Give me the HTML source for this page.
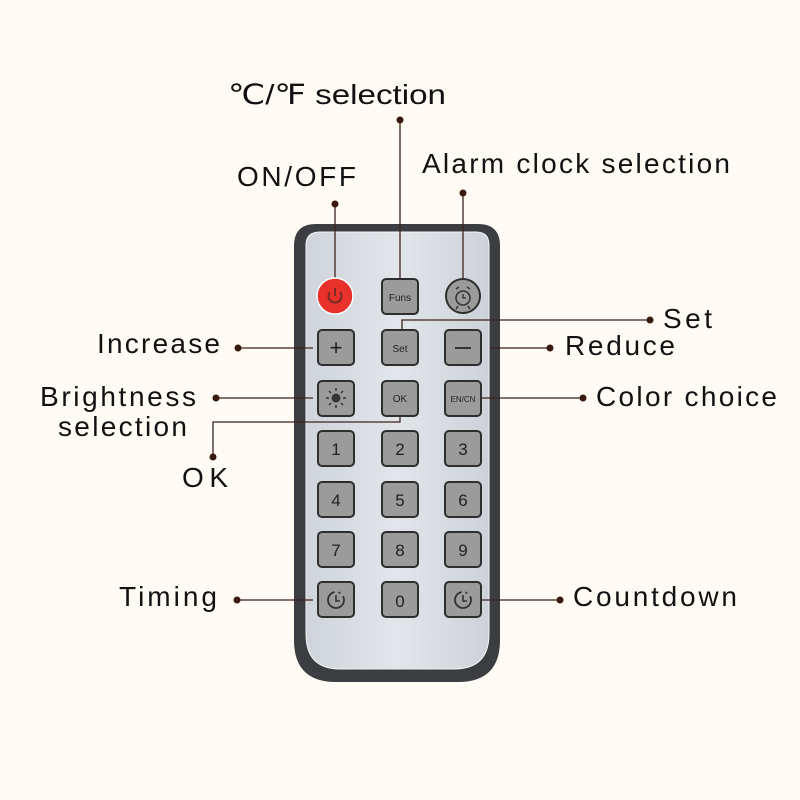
<!DOCTYPE html>
<html><head><meta charset="utf-8"><style>
html,body{margin:0;padding:0;background:#fffaf3;}
svg{display:block}
.t{font-family:"Liberation Sans","DejaVu Sans",sans-serif;font-size:28px;fill:#111}
.b{fill:#9b9b9b;stroke:#2e2e2e;stroke-width:2}
.k{font-family:"Liberation Sans",sans-serif;fill:#222;text-anchor:middle}
.l{stroke:#3a231c;stroke-width:1.3;fill:none}
.d{fill:#3a1a10}
</style></head><body>
<svg width="800" height="800" viewBox="0 0 800 800">
<defs><linearGradient id="g" x1="0" y1="0" x2="1" y2="0"><stop offset="0" stop-color="#cfd4da"/><stop offset="0.5" stop-color="#e2e6ea"/><stop offset="1" stop-color="#cdd2d8"/></linearGradient></defs>
<path d="M316 224 H478 Q500 224 500 246 V640 Q500 682 458 682 H336 Q294 682 294 640 V246 Q294 224 316 224 Z" fill="#3b3d40"/>
<path d="M320 232 H476 Q489 232 489 245 V634 Q489 669 454 669 H340 Q306 669 306 634 V245 Q306 232 320 232 Z" fill="url(#g)" stroke="#f4f4f4" stroke-width="1"/>
<g class="l">
<path d="M335 204 V278"/><path d="M400 120 V280"/><path d="M463 193 V278"/>
<path d="M650 320 H402 V330"/>
<path d="M238 348 H313"/><path d="M490 348 H550"/>
<path d="M216 398 H313"/><path d="M482 398 H583"/>
<path d="M213 457 V422 H400 V416"/>
<path d="M237 600 H313"/><path d="M482 600 H560"/>
</g>
<g class="d">
<circle cx="335" cy="204" r="3.5"/><circle cx="400" cy="120" r="3.5"/><circle cx="463" cy="193" r="3.5"/>
<circle cx="650" cy="320" r="3.5"/><circle cx="238" cy="348" r="3.5"/><circle cx="550" cy="348" r="3.5"/>
<circle cx="216" cy="398" r="3.5"/><circle cx="583" cy="398" r="3.5"/><circle cx="213" cy="457" r="3.5"/>
<circle cx="237" cy="600" r="3.5"/><circle cx="560" cy="600" r="3.5"/>
</g>
<circle cx="335" cy="296" r="18" fill="#e8312a" stroke="#fff" stroke-width="1.5"/>
<path d="M330 292 A6.5 6.5 0 1 0 340 292" stroke="#7a2a25" stroke-width="2" fill="none"/><path d="M335 288 V296" stroke="#7a2a25" stroke-width="2"/>
<rect class="b" x="382" y="279" width="36" height="35" rx="4"/><text class="k" x="400" y="301" font-size="10">Funs</text>
<circle cx="463" cy="296" r="17" fill="#9b9b9b" stroke="#2e2e2e" stroke-width="2"/>
<circle cx="463" cy="298" r="7" fill="none" stroke="#333" stroke-width="1.5"/><path d="M463 294 V298 H466" stroke="#333" stroke-width="1.3" fill="none"/>
<path d="M456 289 l3 -2 M470 289 l-3 -2 M458 306 l-2 3 M468 306 l2 3" stroke="#333" stroke-width="1.5"/>
<rect class="b" x="318" y="330" width="36" height="35" rx="4"/><text class="k" x="336" y="355" font-size="22">+</text>
<rect class="b" x="382" y="330" width="36" height="35" rx="4"/><text class="k" x="400" y="352" font-size="10">Set</text>
<rect class="b" x="445" y="330" width="36" height="35" rx="4"/><path d="M455 348 H471" stroke="#333" stroke-width="2"/>
<rect class="b" x="318" y="381" width="36" height="35" rx="4"/><circle cx="336" cy="398" r="4.5" fill="#333"/>
<path d="M336 388 v3 M336 405 v3 M326 398 h3 M343 398 h3 M329 391 l2 2 M341 403 l2 2 M343 391 l-2 2 M329 405 l2 -2" stroke="#333" stroke-width="1.5"/>
<rect class="b" x="382" y="381" width="36" height="35" rx="4"/><text class="k" x="400" y="402" font-size="10">OK</text>
<rect class="b" x="445" y="381" width="36" height="35" rx="4"/><text class="k" x="463" y="402" font-size="8">EN/CN</text>
<rect class="b" x="318" y="431" width="36" height="35" rx="4"/><text class="k" x="336" y="455" font-size="17">1</text>
<rect class="b" x="382" y="431" width="36" height="35" rx="4"/><text class="k" x="400" y="455" font-size="17">2</text>
<rect class="b" x="445" y="431" width="36" height="35" rx="4"/><text class="k" x="463" y="455" font-size="17">3</text>
<rect class="b" x="318" y="482" width="36" height="35" rx="4"/><text class="k" x="336" y="506" font-size="17">4</text>
<rect class="b" x="382" y="482" width="36" height="35" rx="4"/><text class="k" x="400" y="506" font-size="17">5</text>
<rect class="b" x="445" y="482" width="36" height="35" rx="4"/><text class="k" x="463" y="506" font-size="17">6</text>
<rect class="b" x="318" y="532" width="36" height="35" rx="4"/><text class="k" x="336" y="556" font-size="17">7</text>
<rect class="b" x="382" y="532" width="36" height="35" rx="4"/><text class="k" x="400" y="556" font-size="17">8</text>
<rect class="b" x="445" y="532" width="36" height="35" rx="4"/><text class="k" x="463" y="556" font-size="17">9</text>
<rect class="b" x="318" y="582" width="36" height="35" rx="4"/><circle cx="336" cy="600" r="8" fill="none" stroke="#333" stroke-width="1.8" stroke-dasharray="36 4 2 4"/><path d="M336 595 V601 H340" stroke="#333" stroke-width="1.6" fill="none"/>
<rect class="b" x="382" y="582" width="36" height="35" rx="4"/><text class="k" x="400" y="607" font-size="17">0</text>
<rect class="b" x="445" y="582" width="36" height="35" rx="4"/><circle cx="463" cy="600" r="8" fill="none" stroke="#333" stroke-width="1.8" stroke-dasharray="36 4 2 4"/><path d="M463 595 V601 H467" stroke="#333" stroke-width="1.6" fill="none"/>
<text class="t" x="228" y="104" textLength="218" lengthAdjust="spacingAndGlyphs">℃/℉ selection</text>
<text class="t" x="422" y="173" textLength="308" lengthAdjust="spacing">Alarm clock selection</text>
<text class="t" x="237" y="186" textLength="119" lengthAdjust="spacing">ON/OFF</text>
<text class="t" x="663" y="328" textLength="49" lengthAdjust="spacing">Set</text>
<text class="t" x="97" y="353" textLength="123" lengthAdjust="spacing">Increase</text>
<text class="t" x="565" y="355" textLength="110" lengthAdjust="spacing">Reduce</text>
<text class="t" x="40" y="406" textLength="156" lengthAdjust="spacing">Brightness</text>
<text class="t" x="58" y="436" textLength="129" lengthAdjust="spacing">selection</text>
<text class="t" x="596" y="406" textLength="181" lengthAdjust="spacing">Color choice</text>
<text class="t" x="182" y="487" textLength="46" lengthAdjust="spacing">OK</text>
<text class="t" x="119" y="606" textLength="98" lengthAdjust="spacing">Timing</text>
<text class="t" x="573" y="606" textLength="164" lengthAdjust="spacing">Countdown</text>
</svg>
</body></html>
